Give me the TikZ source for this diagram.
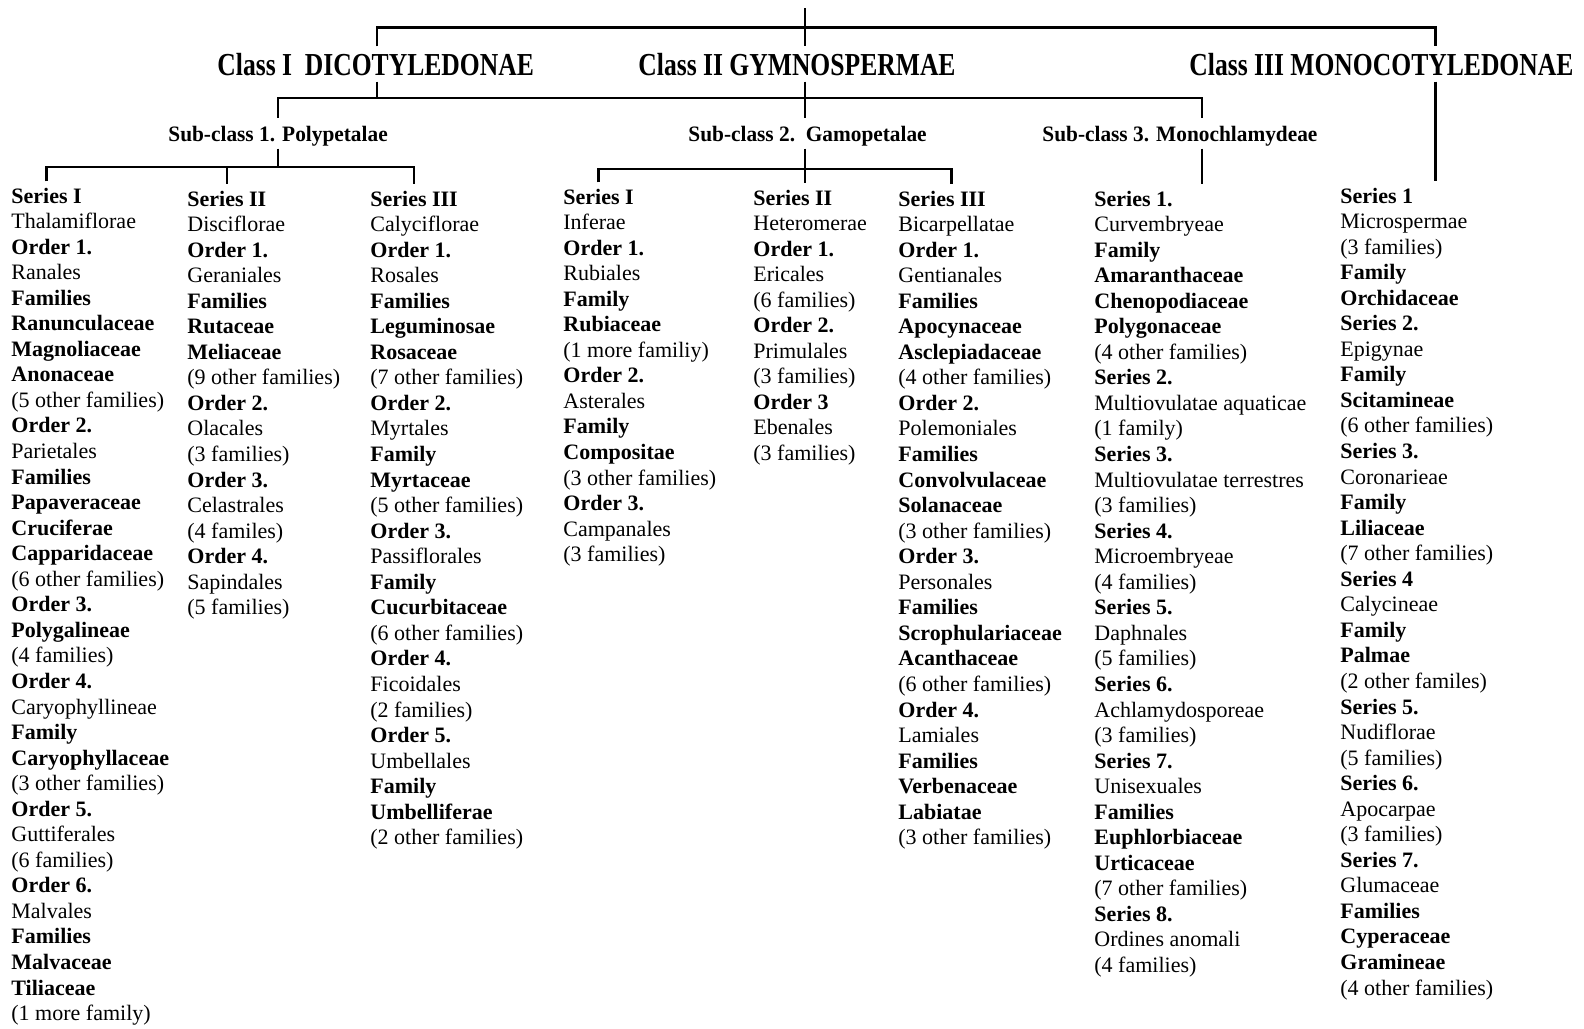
\documentclass[tikz,border=0pt]{standalone}
\usepackage{fontspec}
\setmainfont{Liberation Serif}
\usepackage{graphicx}
\usetikzlibrary{positioning}

\begin{document}
\begin{tikzpicture}[
  x=0.5pt, y=-0.5pt,
  % --- labels ---
  clslbl/.style={font=\fontsize{16}{18}\selectfont\bfseries, inner sep=3pt, anchor=base west},
  sublbl/.style={font=\fontsize{11}{13}\selectfont\bfseries, inner sep=1pt, anchor=base west},
  entry/.style={font=\fontsize{11}{13}\selectfont, inner sep=0pt, anchor=base west},
  bld/.style={font=\fontsize{11}{13}\selectfont\bfseries},
  reg/.style={},
  % --- lines ---
  tree/.style={line width=1.2pt, draw=black},
]

\fill[white] (0,0) rectangle (1584,1028);
\useasboundingbox (0,0) rectangle (1584,1028);

% ===================== CLASSES =====================

\node[clslbl] (dico)  at (211,75)  {\scalebox{0.8}[1]{Class I\ \ DICOTYLEDONAE}};
\node[clslbl] (gymno) at (632,75)  {\scalebox{0.8}[1]{Class II GYMNOSPERMAE}};
\node[clslbl] (mono)  at (1183,75) {\scalebox{0.8}[1]{Class III MONOCOTYLEDONAE}};

\node[sublbl] (poly)    at (166,141.5)  {\scalebox{0.97}[1]{Sub-class 1. Polypetalae}};
\node[sublbl] (gamo)    at (686,141.5)  {\scalebox{0.97}[1]{Sub-class 2.\enspace Gamopetalae}};
\node[sublbl] (monochl) at (1040,141.5) {\scalebox{0.97}[1]{Sub-class 3. Monochlamydeae}};

% ===================== SERIES COLUMNS =====================

% Polypetalae
\foreach \w/\t [count=\i] in {bld/Series I, reg/Thalamiflorae, bld/Order 1., reg/Ranales,
  bld/Families, bld/Ranunculaceae, bld/Magnoliaceae, bld/Anonaceae, reg/(5 other families),
  bld/Order 2., reg/Parietales, bld/Families, bld/Papaveraceae, bld/Cruciferae,
  bld/Capparidaceae, reg/(6 other families), bld/Order 3., bld/Polygalineae, reg/(4 families),
  bld/Order 4., reg/Caryophyllineae, bld/Family, bld/Caryophyllaceae, reg/(3 other families),
  bld/Order 5., reg/Guttiferales, reg/(6 families), bld/Order 6., reg/Malvales, bld/Families,
  bld/Malvaceae, bld/Tiliaceae, reg/(1 more family)}
  \node[entry, \w] (colA-\i) at (11, {203+(\i-1)*25.55}) {\t};

\foreach \w/\t [count=\i] in {bld/Series II, reg/Disciflorae, bld/Order 1., reg/Geraniales,
  bld/Families, bld/Rutaceae, bld/Meliaceae, reg/(9 other families), bld/Order 2.,
  reg/Olacales, reg/(3 families), bld/Order 3., reg/Celastrales, reg/(4 familes),
  bld/Order 4., reg/Sapindales, reg/(5 families)}
  \node[entry, \w] (colB-\i) at (187, {206+(\i-1)*25.55}) {\t};

\foreach \w/\t [count=\i] in {bld/Series III, reg/Calyciflorae, bld/Order 1., reg/Rosales,
  bld/Families, bld/Leguminosae, bld/Rosaceae, reg/(7 other families), bld/Order 2.,
  reg/Myrtales, bld/Family, bld/Myrtaceae, reg/(5 other families), bld/Order 3.,
  reg/Passiflorales, bld/Family, bld/Cucurbitaceae, reg/(6 other families), bld/Order 4.,
  reg/Ficoidales, reg/(2 families), bld/Order 5., reg/Umbellales, bld/Family,
  bld/Umbelliferae, reg/(2 other families)}
  \node[entry, \w] (colC-\i) at (370, {206+(\i-1)*25.55}) {\t};

% Gamopetalae
\foreach \w/\t [count=\i] in {bld/Series I, reg/Inferae, bld/Order 1., reg/Rubiales,
  bld/Family, bld/Rubiaceae, reg/(1 more familiy), bld/Order 2., reg/Asterales, bld/Family,
  bld/Compositae, reg/(3 other families), bld/Order 3., reg/Campanales, reg/(3 families)}
  \node[entry, \w] (colD-\i) at (563, {204+(\i-1)*25.55}) {\t};

\foreach \w/\t [count=\i] in {bld/Series II, reg/Heteromerae, bld/Order 1., reg/Ericales,
  reg/(6 families), bld/Order 2., reg/Primulales, reg/(3 families), bld/Order 3,
  reg/Ebenales, reg/(3 families)}
  \node[entry, \w] (colE-\i) at (753, {205+(\i-1)*25.55}) {\t};

\foreach \w/\t [count=\i] in {bld/Series III, reg/Bicarpellatae, bld/Order 1.,
  reg/Gentianales, bld/Families, bld/Apocynaceae, bld/Asclepiadaceae, reg/(4 other families),
  bld/Order 2., reg/Polemoniales, bld/Families, bld/Convolvulaceae, bld/Solanaceae,
  reg/(3 other families), bld/Order 3., reg/Personales, bld/Families, bld/Scrophulariaceae,
  bld/Acanthaceae, reg/(6 other families), bld/Order 4., reg/Lamiales, bld/Families,
  bld/Verbenaceae, bld/Labiatae, reg/(3 other families)}
  \node[entry, \w] (colF-\i) at (898, {206+(\i-1)*25.55}) {\t};

% Monochlamydeae
\foreach \w/\t [count=\i] in {bld/Series 1., reg/Curvembryeae, bld/Family, bld/Amaranthaceae,
  bld/Chenopodiaceae, bld/Polygonaceae, reg/(4 other families), bld/Series 2.,
  reg/Multiovulatae aquaticae, reg/(1 family), bld/Series 3., reg/Multiovulatae terrestres,
  reg/(3 families), bld/Series 4., reg/Microembryeae, reg/(4 families), bld/Series 5.,
  reg/Daphnales, reg/(5 families), bld/Series 6., reg/Achlamydosporeae, reg/(3 families),
  bld/Series 7., reg/Unisexuales, bld/Families, bld/Euphlorbiaceae, bld/Urticaceae,
  reg/(7 other families), bld/Series 8., reg/Ordines anomali, reg/(4 families)}
  \node[entry, \w] (colG-\i) at (1094, {206+(\i-1)*25.55}) {\t};

% Monocotyledonae
\foreach \w/\t [count=\i] in {bld/Series 1, reg/Microspermae, reg/(3 families), bld/Family,
  bld/Orchidaceae, bld/Series 2., reg/Epigynae, bld/Family, bld/Scitamineae,
  reg/(6 other families), bld/Series 3., reg/Coronarieae, bld/Family, bld/Liliaceae,
  reg/(7 other families), bld/Series 4, reg/Calycineae, bld/Family, bld/Palmae,
  reg/(2 other familes), bld/Series 5., reg/Nudiflorae, reg/(5 families), bld/Series 6.,
  reg/Apocarpae, reg/(3 families), bld/Series 7., reg/Glumaceae, bld/Families,
  bld/Cyperaceae, bld/Gramineae, reg/(4 other families)}
  \node[entry, \w] (colH-\i) at (1340, {203+(\i-1)*25.55}) {\t};

% ===================== CONNECTIONS =====================

\coordinate (top) at (805,8);
\coordinate (k1) at (377,27.3);
\coordinate (k3) at (1435.5,27.3);
\coordinate (s3) at (1202,98);
\coordinate (p2) at (0,166.7);
\coordinate (g2) at (951.6,168.7);

% classes
\draw[tree] (top) -- (gymno.north -| top);
\draw[tree] (dico.north -| k1) -- (k1) -- (k3) -- (mono.north -| k3);

% sub-classes
\draw[tree] (dico.south -| k1) -- (k1 |- s3);
\draw[tree, shorten <=3pt, shorten >=3pt] (poly.north) |- (s3) -- (monochl.north -| s3);
\draw[tree, shorten >=3pt] (gymno.south -| top) -- (gamo.north -| top);
\draw[tree, shorten >=3pt] (mono.south -| k3) -- (colH-1.north -| k3);

% series
\draw[tree] (poly.south) -- (poly.south |- p2);
\draw[tree, shorten <=3pt, shorten >=3pt] (colA-1.north) |- (colC-1.north |- p2) -- (colC-1.north);
\draw[tree, shorten >=3pt] (colB-1.north |- p2) -- (colB-1.north);

\draw[tree, shorten >=3pt] (gamo.south -| top) -- (colE-1.north -| top);
\draw[tree, shorten <=3pt, shorten >=3pt] (colD-1.north) |- (g2) -- (g2 |- colF-1.north);

\draw[tree, shorten >=3pt] (monochl.south -| s3) -- (colG-1.north -| s3);

\end{tikzpicture}
\end{document}
